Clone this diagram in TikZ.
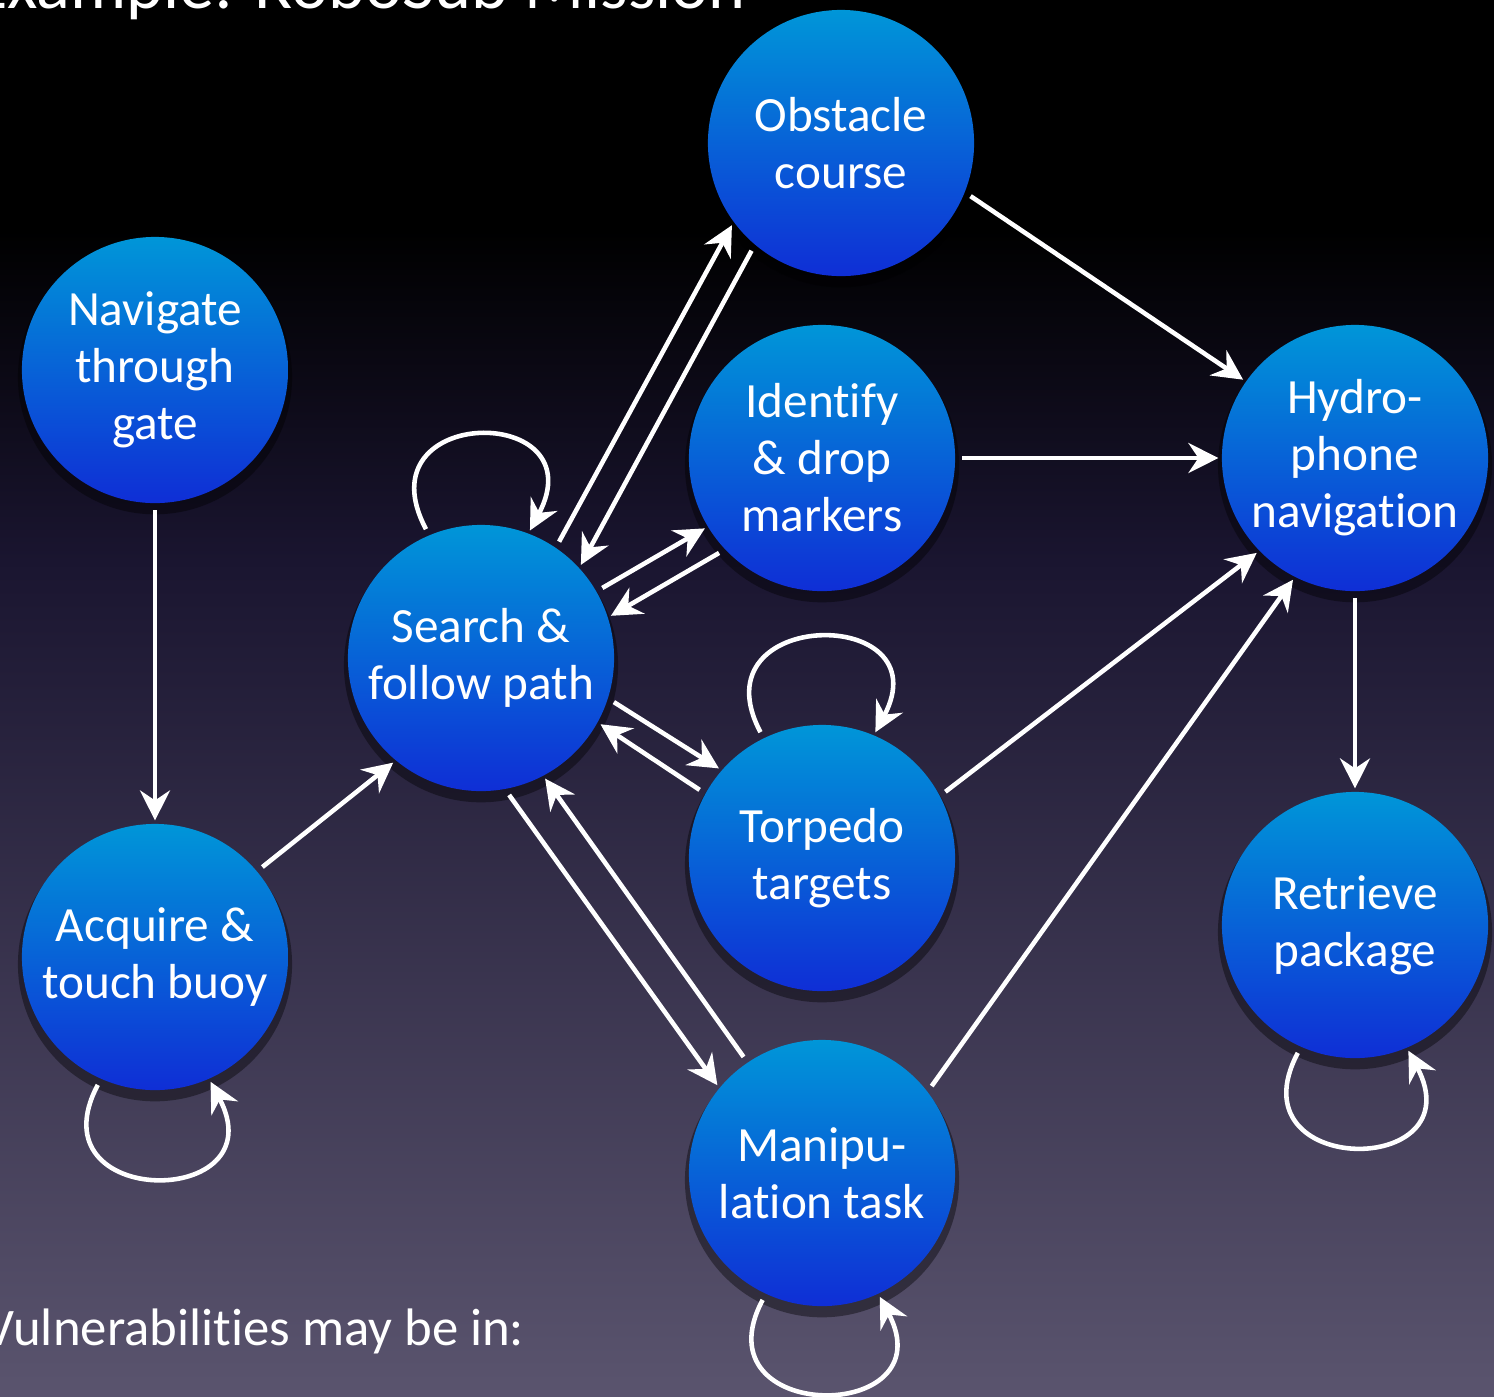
\documentclass[tikz,border=0pt]{standalone}
\usepackage{fontspec}
\setmainfont{Carlito}[Ligatures=NoCommon]
\usetikzlibrary{arrows.meta, shadows}
\definecolor{bgmid}{HTML}{1A1530}
\definecolor{bgbot}{HTML}{5A546E}
\definecolor{balltop}{HTML}{0096D8}
\definecolor{ballbot}{HTML}{0F2ED6}

\begin{document}
\begin{tikzpicture}[x=0.01cm, y=-0.01cm,
    task/.style={circle, top color=balltop, bottom color=ballbot, draw=none,
                 minimum size=2.66cm, inner sep=0pt, outer sep=1pt,
                 text=white, align=center, font=\fontsize{14}{16.2}\selectfont,
                 drop shadow={fill=black, shadow xshift=0pt, shadow yshift=-2pt,
                              shadow scale=1.03, opacity=0.4}},
    link/.style={-{Stealth[length=0.3cm, width=0.3cm, inset=0.1cm]},
                 white, line width=1.3pt, shorten <=1pt}]
    \useasboundingbox (0,0) rectangle (1494,1396);
    \clip (0,0) rectangle (1494,1396);
    \fill[black] (0,0) rectangle (1494,231);
    \shade[top color=black, bottom color=bgmid] (0,230) rectangle (1494,561);
    \shade[top color=bgmid, bottom color=bgbot] (0,560) rectangle (1494,1396);

    \node[anchor=base east, inner sep=0pt, text=white, font=\fontsize{20}{24}\selectfont]
        (title) at (747,8) {Example: RoboSub Mission};
    \node[anchor=base east, inner sep=0pt, text=white, font=\fontsize{15}{18}\selectfont]
        (vuln) at (525,1345) {Vulnerabilities may be in:};

    \node[task] (gate) at (155,370) {Navigate\\through\\gate};
    \node[task] (buoy) at (155,957) {Acquire \&\\touch buoy};
    \node[task] (path) at (481,658) {Search \&\\follow path};
    \node[task] (obstacle) at (841,143) {Obstacle\\course};
    \node[task] (markers) at (822,458) {Identify\\\& drop\\markers};
    \node[task] (torpedo) at (822,858) {Torpedo\\targets};
    \node[task] (manip) at (822,1173) {Manipu-\\lation task};
    \node[task] (hydro) at (1355,458) {Hydro-\\phone\\navigation};
    \node[task] (retrieve) at (1355,925) {Retrieve\\package};

    \draw[link] (gate) -- (buoy);
    \draw[link] (buoy.40) -- (path.230);
    \draw[link] (path.56) -- (obstacle.217);
    \draw[link] (obstacle.230) -- (path.43);
    \draw[link] (path.30) -- (markers.211);
    \draw[link] (markers.223) -- (path.18);
    \draw[link] (path.342) -- (torpedo.139);
    \draw[link] (torpedo.151) -- (path.331);
    \draw[link] (path.281) -- (manip.140);
    \draw[link] (manip.124) -- (path.298);
    \draw[link] (obstacle.338) -- (hydro.145);
    \draw[link] (markers) -- (hydro);
    \draw[link] (torpedo.28) -- (hydro.224);
    \draw[link] (manip.38) -- (hydro.243);
    \draw[link] (hydro) -- (retrieve);

    \draw[link] (path.113) .. controls +(118:1.45cm) and +(62:1.45cm) .. (path.69);
    \draw[link] (torpedo.116) .. controls +(118:1.45cm) and +(62:1.45cm) .. (torpedo.67);
    \draw[link] (buoy.246) .. controls +(242:1.45cm) and +(298:1.45cm) .. (buoy.294);
    \draw[link] (manip.245) .. controls +(242:1.45cm) and +(298:1.45cm) .. (manip.295);
    \draw[link] (retrieve.246) .. controls +(242:1.45cm) and +(298:1.45cm) .. (retrieve.293);
\end{tikzpicture}
\end{document}
